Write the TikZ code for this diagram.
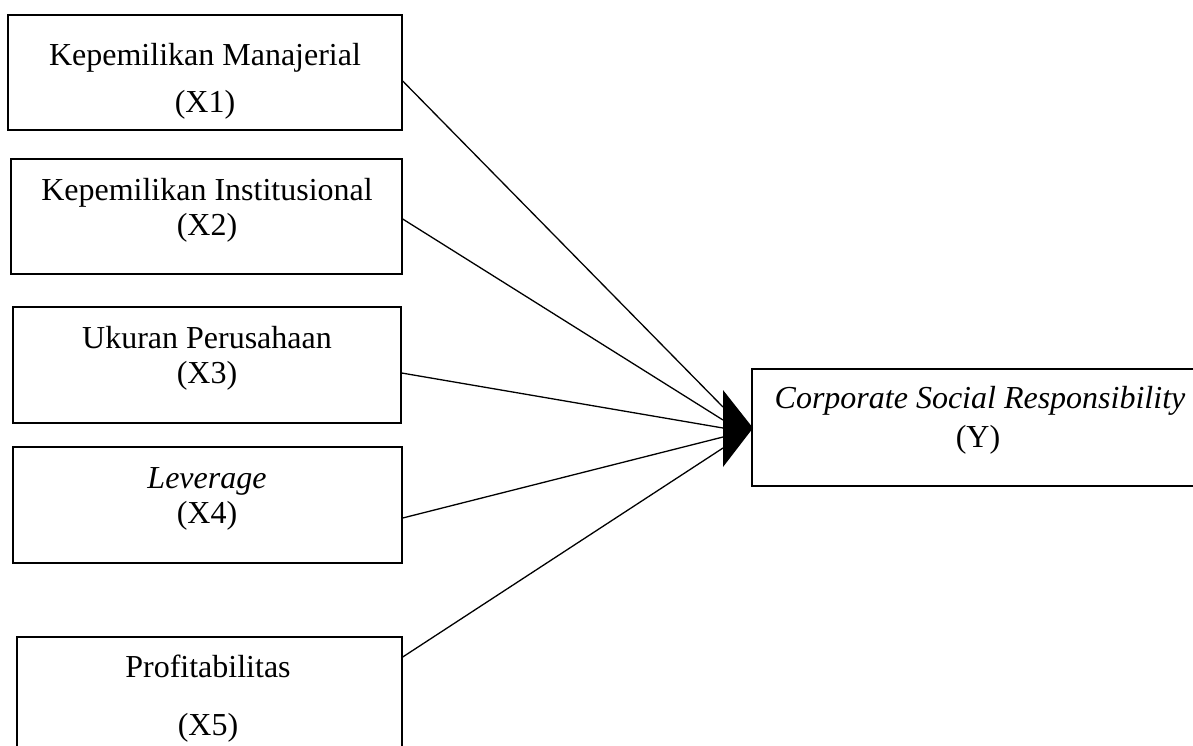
\documentclass[tikz,border=0pt]{standalone}
\usepackage{fontspec}
\setmainfont{Liberation Serif}
\usetikzlibrary{fit,calc}
\begin{document}
\begin{tikzpicture}[x=0.5pt,y=-0.5pt,
  box/.style={draw=black,line width=0.7pt,inner sep=0pt,fill=none},
  lbl/.style={anchor=base,inner sep=0pt,font=\fontsize{16}{19}\selectfont},
  conn/.style={draw=black,line width=0.65pt}]
\useasboundingbox (0,0) rectangle (1193,745);
% boxes
\node[box,fit={(8,15) (402,130)}] (b1) {};
\node[box,fit={(11,159) (402,274)}] (b2) {};
\node[box,fit={(13,307) (401,423)}] (b3) {};
\node[box,fit={(13,447) (402,563)}] (b4) {};
\node[box,fit={(17,637) (402,770)}] (b5) {};
\node[box,fit={(752,369) (1210,486)}] (y) {};
% texts
\node[lbl] (t1a) at (205,65) {Kepemilikan Manajerial};
\node[lbl] (t1b) at (205,112) {(X1)};
\node[lbl] (t2a) at (207,200) {Kepemilikan Institusional};
\node[lbl] (t2b) at (207,235) {(X2)};
\node[lbl] (t3a) at (207,348) {Ukuran Perusahaan};
\node[lbl] (t3b) at (207,383) {(X3)};
\node[lbl] (t4a) at (207,488) {\itshape Leverage};
\node[lbl] (t4b) at (207,523) {(X4)};
\node[lbl] (t5a) at (208,677) {Profitabilitas};
\node[lbl] (t5b) at (208,735) {(X5)};
\node[lbl] (tya) at (980,408) {\itshape Corporate Social Responsibility};
\node[lbl] (tyb) at (978,447) {(Y)};
% arrow head
\coordinate (tip) at (753,428);
\coordinate (hb1) at (723,390);
\coordinate (hb2) at (723,467);
\coordinate (e1) at (723,407);
\coordinate (e2) at (723,420);
\coordinate (e3) at (723,428);
\coordinate (e4) at (723,437);
\coordinate (e5) at (723,448);
\draw[conn] (b1.east |- 0,81) -- (e1);
\draw[conn] (b2.east |- 0,219) -- (e2);
\draw[conn] (b3.east |- 0,373) -- (e3);
\draw[conn] (b4.east |- 0,518) -- (e4);
\draw[conn] (b5.east |- 0,657) -- (e5);
\fill[black] (hb1) -- (tip) -- (hb2) -- cycle;
\end{tikzpicture}
\end{document}
